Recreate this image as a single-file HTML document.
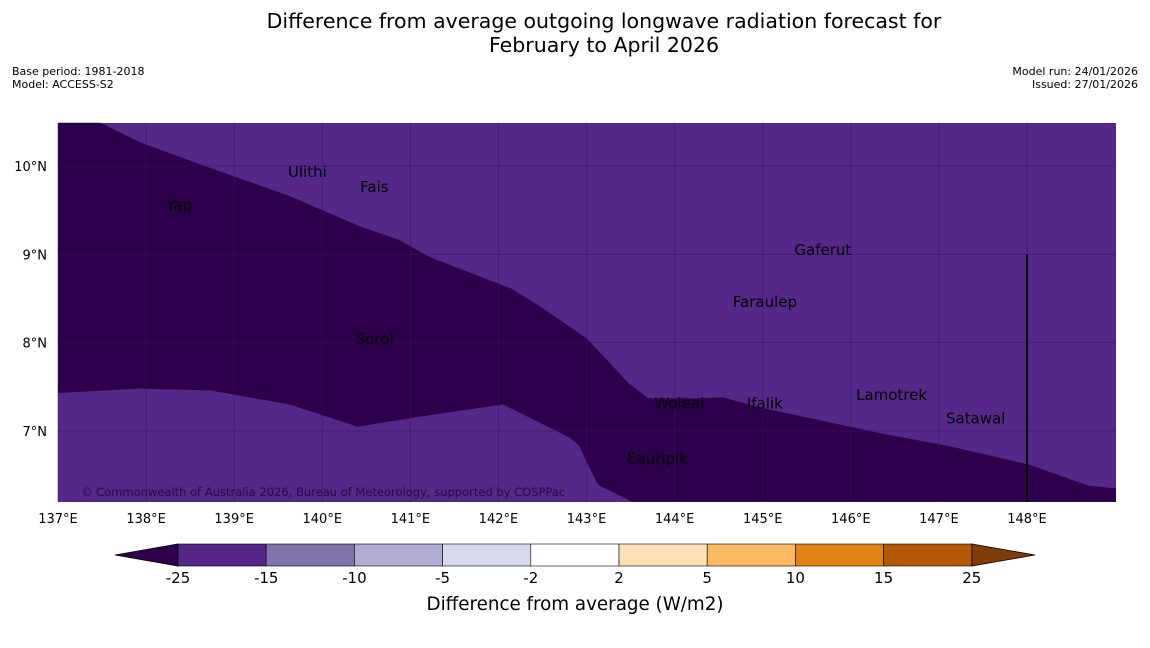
<!DOCTYPE html>
<html><head><meta charset="utf-8"><style>
body{margin:0;background:#fff;width:1150px;height:644px;overflow:hidden;font-family:"DejaVu Sans","Liberation Sans",sans-serif}
</style></head><body>
<svg id="c" width="1150" height="644" xmlns="http://www.w3.org/2000/svg" font-family="DejaVu Sans, Liberation Sans, sans-serif">
<text x="604" y="28" text-anchor="middle" font-size="20.5">Difference from average outgoing longwave radiation forecast for</text>
<text x="604" y="52" text-anchor="middle" font-size="20.5">February to April 2026</text>
<text x="12" y="75" font-size="11">Base period: 1981-2018</text>
<text x="12" y="88" font-size="11">Model: ACCESS-S2</text>
<text x="1138" y="75" font-size="11" text-anchor="end">Model run: 24/01/2026</text>
<text x="1138" y="88" font-size="11" text-anchor="end">Issued: 27/01/2026</text>
<g id="map"></g>
<g id="cbar"></g>
<text x="575" y="610" text-anchor="middle" font-size="18.3">Difference from average (W/m2)</text>
</svg>
<script>
const lonTicks=[137,138,139,140,141,142,143,144,145,146,147,148];
const latTicks=[7,8,9,10];
const cbLevels=["-25","-15","-10","-5","-2","2","5","10","15","25"];
const cbColors=["#542788","#8073ac","#b2abd2","#d8daeb","#ffffff","#fee0b6","#fdb863","#e08214","#b35806"];
const places=["Yap","Ulithi","Fais","Gaferut","Faraulep","Sorol","Woleai","Ifalik","Lamotrek","Satawal","Eauripik"];
const placeLon=[138.23,139.61,140.43,145.36,144.66,140.38,143.77,144.82,146.06,147.08,143.46];
const placeLat=[9.55,9.93,9.76,9.05,8.46,8.04,7.31,7.31,7.41,7.14,6.69];
// estimated dark (< -25) region boundary as lon/lat points
const darkLon=[137,137.48,137.93,138.61,139.63,140.42,140.88,141.22,142.15,142.47,143.0,143.48,143.7,144.25,144.55,144.95,146.31,147.11,148.02,148.7,149.01,149.01,143.52,143.13,142.91,142.8,142.05,141.22,140.4,139.63,138.73,137.93,137];
const darkLat=[10.49,10.49,10.27,10.02,9.66,9.32,9.16,8.97,8.61,8.41,8.05,7.54,7.37,7.37,7.38,7.27,6.98,6.83,6.62,6.38,6.35,6.2,6.2,6.39,6.84,6.93,7.3,7.18,7.05,7.3,7.46,7.48,7.43];
const NS="http://www.w3.org/2000/svg";
const X0=58,X1=1116,Y0=123,Y1=502;
const x=l=>58+(l-137)*88.09, y=a=>166+(10-a)*88.33;
function mk(t,a,p){const e=document.createElementNS(NS,t);for(const k in a)e.setAttribute(k,a[k]);(p||map).appendChild(e);return e;}
const map=document.getElementById('map');
const bg=mk('rect',{x:X0,y:Y0,width:X1-X0,height:Y1-Y0,fill:'#542788'});


const pts=darkLon.map((l,i)=>x(l).toFixed(1)+','+y(darkLat[i]).toFixed(1)).join(' ');
const dk=mk('polygon',{points:pts,fill:'#2d004b'});


lonTicks.forEach(l=>{
 const g=mk('line',{x1:x(l),x2:x(l),y1:Y0,y2:Y1,stroke:'#3a1060','stroke-width':0.8,'stroke-opacity':0.6});
 
 
 const t=mk('text',{x:x(l),y:523,'text-anchor':'middle','font-size':13});t.textContent=l+'°E';
 
 
});
latTicks.forEach(a=>{
 const g=mk('line',{x1:X0,x2:X1,y1:y(a),y2:y(a),stroke:'#3a1060','stroke-width':0.8,'stroke-opacity':0.6});
 
 
 const t=mk('text',{x:47,y:y(a)+5,'text-anchor':'end','font-size':13});t.textContent=a+'°N';
 
 
});
const vl=mk('line',{x1:x(148),x2:x(148),y1:y(9),y2:Y1,stroke:'#000','stroke-width':2});


places.forEach((p,i)=>{
 const t=mk('text',{x:x(placeLon[i]),y:y(placeLat[i])+5,'font-size':15,fill:'#000'});t.textContent=p;
 
 
});
const cp=mk('text',{x:81,y:496,'font-size':11.5,fill:'#2a0a40'});cp.textContent='© Commonwealth of Australia 2026, Bureau of Meteorology, supported by COSPPac';


// colorbar
const cb=document.getElementById('cbar');
const CB0=178,CBW=88.2,CY=544,CH=22;
const tl=mk('polygon',{points:`${CB0},${CY} ${CB0},${CY+CH} 115,${CY+CH/2}`,fill:'#2d004b',stroke:'#000','stroke-width':0.8},cb);


const te=CB0+CBW*cbColors.length;
const tr=mk('polygon',{points:`${te},${CY} ${te},${CY+CH} 1035,${CY+CH/2}`,fill:'#7f3b08',stroke:'#000','stroke-width':0.8},cb);


cbColors.forEach((c,i)=>{
 const r=mk('rect',{x:CB0+i*CBW,y:CY,width:CBW,height:CH,fill:c,stroke:'#000','stroke-width':0.6},cb);
 
 
});
cbLevels.forEach((v,i)=>{
 const t=mk('text',{x:CB0+i*CBW,y:583,'text-anchor':'middle','font-size':15},cb);t.textContent=v;
 
 
});
</script>
</body></html>
